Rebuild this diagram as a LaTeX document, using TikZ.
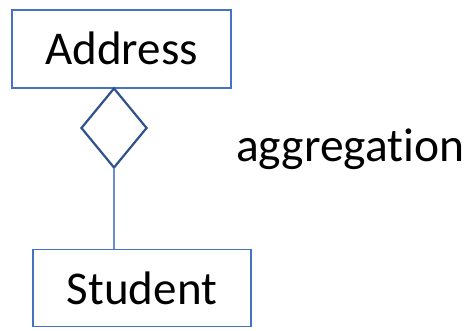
\documentclass[tikz,border=0pt]{standalone}
\usepackage{fontspec}
\setmainfont[Ligatures=NoCommon]{Carlito}
\usetikzlibrary{shapes.geometric}
\tikzset{
  classbox/.style={draw=boxblue, line width=1.5pt, rectangle, inner sep=0pt,
    font=\fontsize{47}{50}\selectfont, text height=32pt, text depth=0pt},
  aggdiamond/.style={draw=darkblue, line width=2.2pt, diamond, inner sep=0pt,
    minimum width=66pt, minimum height=80pt},
  link/.style={draw=lineblue, line width=1.5pt}
}
\definecolor{boxblue}{HTML}{4472C4}
\definecolor{darkblue}{HTML}{2F528F}
\definecolor{lineblue}{HTML}{6A8FD0}
\begin{document}
\begin{tikzpicture}[x=1pt,y=-1pt]
  \useasboundingbox (0,0) rectangle (474,331);
  \fill[white] (0,0) rectangle (474,331);
  \node[classbox, minimum width=219pt, minimum height=78pt] (address) at (121.5,49) {Address};
  \node[aggdiamond] (agg) at (114,128) {};
  \node[classbox, minimum width=218pt, minimum height=77pt] (student) at (142,288) {Student};
  \draw[link] (agg.south) -- (student.north -| agg.south);
  \node[anchor=base west, inner sep=0pt, font=\fontsize{47.5}{50}\selectfont] (agglabel) at (236,162) {aggregation};
\end{tikzpicture}
\end{document}
